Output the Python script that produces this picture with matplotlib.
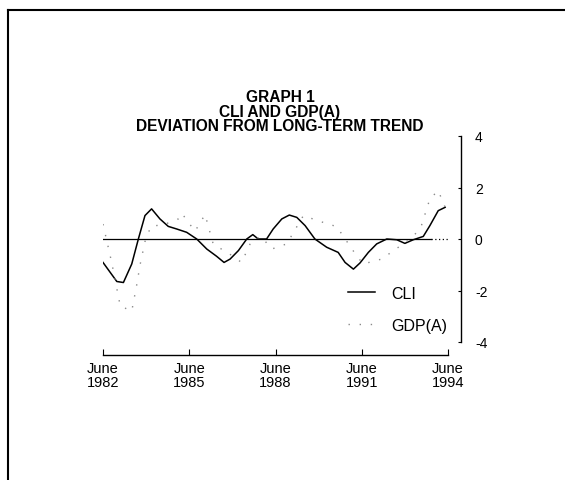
import matplotlib
matplotlib.use("Agg")
import matplotlib.pyplot as plt
from matplotlib.lines import Line2D

plt.rcParams['font.family'] = ['Liberation Sans', 'DejaVu Sans']

# Data
cli_years = [1982.5, 1982.98, 1983.21, 1983.50, 1983.73, 1983.96, 1984.19, 1984.48,
             1984.77, 1985.06, 1985.41, 1985.76, 1986.11, 1986.45, 1986.71, 1986.92,
             1987.21, 1987.50, 1987.71, 1987.90, 1988.19, 1988.42, 1988.72, 1988.98,
             1989.24, 1989.53, 1989.87, 1990.28, 1990.68, 1990.92, 1991.21, 1991.44,
             1991.73, 1992.02, 1992.37, 1992.72, 1993.00, 1993.29, 1993.64, 1993.87,
             1994.16, 1994.40]
cli_values = [-0.91, -1.65, -1.69, -0.97, 0.0, 0.91, 1.17, 0.78,
              0.49, 0.39, 0.26, 0.0, -0.39, -0.67, -0.91, -0.78,
              -0.45, 0.0, 0.17, 0.0, 0.0, 0.39, 0.78, 0.93,
              0.84, 0.52, 0.0, -0.32, -0.52, -0.91, -1.17, -0.93,
              -0.52, -0.19, 0.0, -0.03, -0.17, -0.03, 0.1, 0.52,
              1.1, 1.23]

gdp_years = [1982.5, 1982.8, 1983.1, 1983.5, 1983.67, 1983.79, 1983.96, 1984.17,
             1984.6, 1985.12, 1985.24, 1985.7, 1986.05, 1986.34, 1986.8, 1987.32,
             1987.67, 1988.0, 1988.37, 1988.89, 1989.47, 1990.0, 1990.63, 1991.32,
             1991.55, 1992.19, 1992.8, 1993.3, 1993.58, 1993.87, 1994.16, 1994.4]
gdp_values = [0.58, -0.9, -2.6, -2.8, -1.8, -1.0, -0.1, 0.5,
              0.55, 0.78, 1.0, 0.3, 0.95, -0.22, -0.5, -0.91,
              -0.06, 0.1, -0.39, -0.19, 0.91, 0.7, 0.48, -0.65,
              -0.97, -0.78, -0.3, 0.1, 0.54, 1.56, 1.88, 1.23]

xtick_pos = [1982.5, 1985.5, 1988.5, 1991.5, 1994.5]
xtick_labels = ['June\n1982', 'June\n1985', 'June\n1988', 'June\n1991', 'June\n1994']
ytick_pos = [4, 2, 0, -2, -4]
ytick_labels = ['4', '2', '0', '-2', '-4']

W, H = 565, 481
fig = plt.figure(figsize=(W / 100, H / 100), dpi=100)
fig.patch.set_facecolor('white')

# frame lines
fig.add_artist(Line2D([8 / W, 1.0], [1 - 11 / H, 1 - 11 / H], transform=fig.transFigure,
                      color='black', lw=1.5))
fig.add_artist(Line2D([8 / W, 8 / W], [0, 1 - 11 / H], transform=fig.transFigure,
                      color='black', lw=1.5))

left, right = 103 / W, 448 / W
bottom, top = 1 - 343 / H, 1 - 137 / H
ax = fig.add_axes([left, bottom, right - left, top - bottom])
ax.set_xlim(1982.5, 1994.5)
ax.set_ylim(-4, 4)
ax.patch.set_alpha(0)

ax.plot([1982.5, 1993.9], [0, 0], color='black', lw=0.9)
ax.plot([1993.9, 1994.5], [0, 0], color='black', lw=0.9, linestyle=(0, (1, 2)))

ln_cli, = ax.plot(cli_years, cli_values, color='black', lw=1.1, label='CLI')
ln_gdp, = ax.plot(gdp_years, gdp_values, color='#8a8a8a', lw=1.0,
                  linestyle=(0, (1, 7)), label='GDP(A)')

for s in ['top', 'left']:
    ax.spines[s].set_visible(False)
ax.spines['right'].set_position(('axes', (461 - 103) / 345))
ax.spines['right'].set_linewidth(1.0)
ax.spines['bottom'].set_position(('outward', 9))
ax.spines['bottom'].set_linewidth(1.0)

ax.yaxis.tick_right()
ax.set_yticks(ytick_pos)
ax.set_yticklabels(ytick_labels)
ax.tick_params(axis='y', direction='in', length=2, width=0.8, pad=10, labelsize=10)
for t in ax.get_yticklabels():
    t.set_horizontalalignment('left')

ax.set_xticks(xtick_pos)
ax.set_xticklabels(xtick_labels, linespacing=1.0)
ax.tick_params(axis='x', direction='in', length=4, width=0.8, pad=5, labelsize=10.5)

leg = ax.legend(handles=[ln_cli, ln_gdp], loc='upper left',
                bbox_to_anchor=(348 / W, 1 - 287 / H), bbox_transform=fig.transFigure,
                frameon=False, fontsize=11.5, handlelength=1.7, handletextpad=1.0,
                labelspacing=1.05, borderpad=0, borderaxespad=0)

fig.text(280 / W, 1 - 90 / H, 'GRAPH 1\nCLI AND GDP(A)\nDEVIATION FROM LONG-TERM TREND',
         ha='center', va='top', fontsize=11.2, fontweight='bold', linespacing=0.97)

fig.savefig('out.png', dpi=100, facecolor='white')
